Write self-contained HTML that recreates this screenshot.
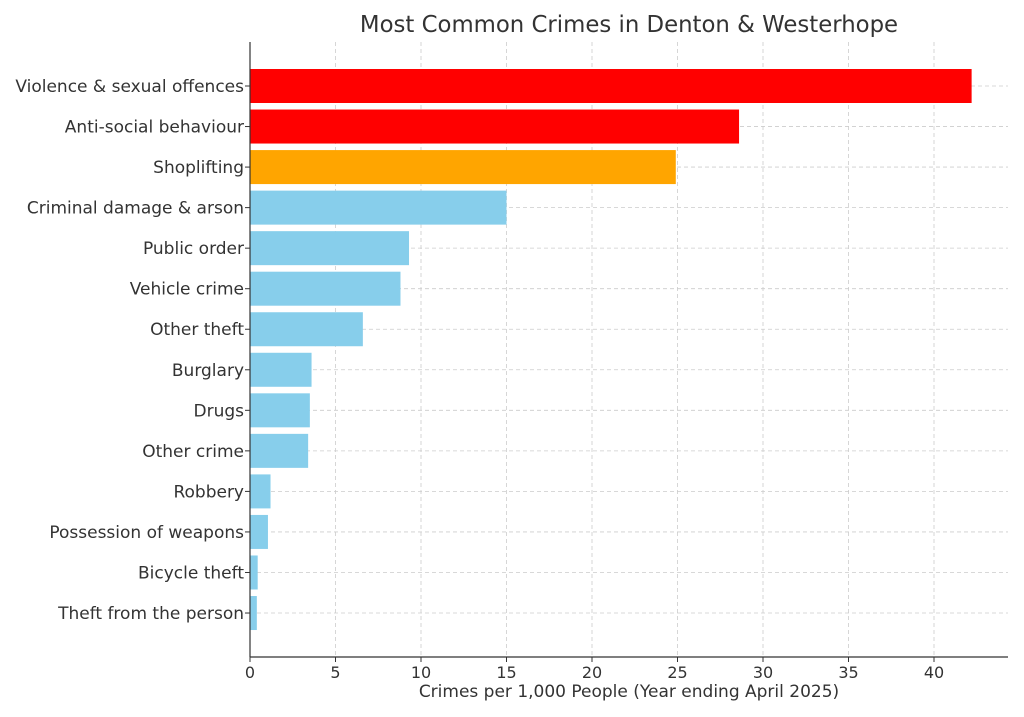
<!DOCTYPE html>
<html><head><meta charset="utf-8"><style>
body{margin:0;background:#fff;}
svg{display:block;font-family:"DejaVu Sans","Liberation Sans",sans-serif;}
</style></head><body>
<svg id="chart" width="1024" height="717" viewBox="0 0 1024 717" xmlns="http://www.w3.org/2000/svg">
<rect width="1024" height="717" fill="#fff"/>
<text x="629" y="32" text-anchor="middle" font-size="22.8" fill="#333">Most Common Crimes in Denton &amp; Westerhope</text>
<g id="grid"></g><g id="bars"></g><g id="axes"></g>
<text x="629" y="697" text-anchor="middle" font-size="17" fill="#333">Crimes per 1,000 People (Year ending April 2025)</text>
</svg>
<script>
const categories=["Violence & sexual offences","Anti-social behaviour","Shoplifting","Criminal damage & arson","Public order","Vehicle crime","Other theft","Burglary","Drugs","Other crime","Robbery","Possession of weapons","Bicycle theft","Theft from the person"];
const values=[42.2,28.6,24.9,15.0,9.3,8.8,6.6,3.6,3.5,3.4,1.2,1.05,0.45,0.4];
const colors=["#ff0000","#ff0000","#ffa500","#87ceeb","#87ceeb","#87ceeb","#87ceeb","#87ceeb","#87ceeb","#87ceeb","#87ceeb","#87ceeb","#87ceeb","#87ceeb"];
const xTicks=[0,5,10,15,20,25,30,35,40];
const NS="http://www.w3.org/2000/svg";
const L=250,R=1008,T=42,B=657;
const x=v=>L+v*17.1;
const step=40.54,y0=86;
const yc=i=>y0+i*step;
const bh=34;
function mk(t,a,p){const e=document.createElementNS(NS,t);for(const k in a)e.setAttribute(k,a[k]);p.appendChild(e);return e;}
const grid=document.getElementById('grid'),bars=document.getElementById('bars'),axes=document.getElementById('axes');
xTicks.forEach(t=>{
 const g=mk('line',{x1:x(t),x2:x(t),y1:T,y2:B,stroke:'#ccc','stroke-dasharray':'4,3','stroke-width':0.8},grid);
 
 
 mk('line',{x1:x(t),x2:x(t),y1:B,y2:B+5,stroke:'#333'},axes);
 const tx=mk('text',{x:x(t),y:B+21,'text-anchor':'middle','font-size':16,fill:'#333'},axes);
 tx.textContent=t;
 
 
});
categories.forEach((c,i)=>{
 const g=mk('line',{x1:L,x2:R,y1:yc(i),y2:yc(i),stroke:'#ccc','stroke-dasharray':'4,3','stroke-width':0.8},grid);
 
 
 const r=mk('rect',{x:L,y:yc(i)-bh/2,width:x(values[i])-L,height:bh,fill:colors[i]},bars);
 
 
 mk('line',{x1:L-5,x2:L,y1:yc(i),y2:yc(i),stroke:'#333'},axes);
 const tx=mk('text',{x:L-6,y:yc(i)+6,'text-anchor':'end','font-size':17,fill:'#333'},axes);
 tx.textContent=c;
 
 
});
const ya=mk('line',{x1:L,x2:L,y1:T,y2:B,stroke:'#333','stroke-width':1.2},axes);


const xa=mk('line',{x1:L,x2:R,y1:B,y2:B,stroke:'#333','stroke-width':1.2},axes);


</script>
</body></html>
